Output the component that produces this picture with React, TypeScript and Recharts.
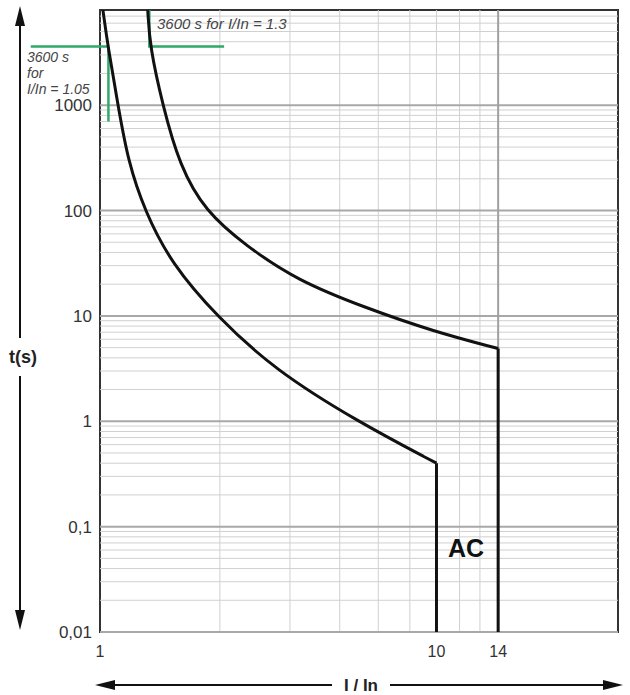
import {
  ComposedChart,
  Line,
  XAxis,
  YAxis,
  ReferenceLine,
  ReferenceArea,
} from "recharts";

// tripping curve, I/In on a log grid, t in seconds
const lowerCurve = [
  { x: 1.017, t: 8000 },
  { x: 1.047, t: 3600 },
  { x: 1.11, t: 1000 },
  { x: 1.175, t: 297 },
  { x: 1.296, t: 98 },
  { x: 1.514, t: 31 },
  { x: 1.97, t: 9.8 },
  { x: 2.74, t: 3.1 },
  { x: 4.42, t: 1 },
  { x: 7, t: 0.4 },
];

const upperCurve = [
  { x: 1.318, t: 8000 },
  { x: 1.334, t: 3600 },
  { x: 1.437, t: 1000 },
  { x: 1.585, t: 265 },
  { x: 1.84, t: 98 },
  { x: 2.32, t: 46.6 },
  { x: 3.12, t: 21.8 },
  { x: 4.65, t: 11.9 },
  { x: 6.9, t: 7.1 },
  { x: 10, t: 4.9 },
];

const tMin = 0.01;
const tMax = 8000;

const lowerDrop = [lowerCurve[lowerCurve.length - 1], { x: 7, t: tMin }];
const upperDrop = [upperCurve[upperCurve.length - 1], { x: 10, t: tMin }];

// green 3600 s markers
const mark105 = [
  { x: 1.05, t: 3600 },
  { x: 1.05, t: 700 },
];
const mark13 = [
  { x: 1.33, t: tMax },
  { x: 1.33, t: 3600 },
  { x: 2.05, t: 3600 },
];

const xTicks = [1, 7, 10];
const xTickLabels = ["1", "10", "14"];
const yTicks = [0.01, 0.1, 1, 10, 100, 1000];
const yTickLabels = ["0,01", "0,1", "1", "10", "100", "1000"];

const xMinor = [2, 3, 4, 5, 6, 7, 8, 9];
const yMinor: number[] = [];
yTicks.forEach((d) => {
  for (let k = 2; k <= 9; k++) {
    const v = +(k * d).toPrecision(3);
    if (v < tMax) yMinor.push(v);
  }
});

const FONT = "'Liberation Sans', Arial, sans-serif";
const GREEN = "#2fa86a";

function Overlay() {
  return (
    <svg
      width={630}
      height={695}
      style={{ position: "absolute", left: 0, top: 0, pointerEvents: "none" }}
      fontFamily={FONT}
    >
      {/* t(s) arrow */}
      <line x1={20} y1={24} x2={20} y2={338} stroke="#111" strokeWidth={2} />
      <line x1={20} y1={376} x2={20} y2={612} stroke="#111" strokeWidth={2} />
      <polygon points="20,6 15,26 25,26" fill="#111" />
      <polygon points="20,630 15,610 25,610" fill="#111" />
      <text x={23} y={363} textAnchor="middle" fontSize={18} fontWeight="bold" fill="#222">
        t(s)
      </text>
      {/* I / In arrow */}
      <line x1={112} y1={685} x2={332} y2={685} stroke="#111" strokeWidth={2} />
      <line x1={390} y1={685} x2={606} y2={685} stroke="#111" strokeWidth={2} />
      <polygon points="95,685 115,680 115,690" fill="#111" />
      <polygon points="623,685 603,680 603,690" fill="#111" />
      <text x={361} y={691} textAnchor="middle" fontSize={17} fontWeight="bold" fill="#222">
        I / In
      </text>
      {/* annotations */}
      <g fontStyle="italic" fill="#444">
        <text x={157} y={29} fontSize={15}>3600 s for I/In = 1.3</text>
        <text x={27} y={62} fontSize={14}>3600 s</text>
        <text x={27} y={78} fontSize={14}>for</text>
        <text x={27} y={94} fontSize={14}>I/In = 1.05</text>
      </g>
      <text x={466} y={557} textAnchor="middle" fontSize={25} fontWeight="bold" fill="#111">
        AC
      </text>
    </svg>
  );
}

export default function App() {
  return (
    <div style={{ position: "absolute", left: 0, top: 0, width: 630, height: 695, background: "#fff" }}>
      <ComposedChart
        width={630}
        height={695}
        margin={{ top: 10, right: 12, left: 0, bottom: 0 }}
      >
        <XAxis
          type="number"
          dataKey="x"
          scale="log"
          domain={[1, 20]}
          ticks={xTicks}
          tickFormatter={(v) => xTickLabels[xTicks.indexOf(v)]}
          axisLine={false}
          tickLine={false}
          tickMargin={8}
          height={63}
          tick={{ fill: "#333", fontSize: 16, fontFamily: FONT }}
          allowDataOverflow
        />
        <YAxis
          type="number"
          dataKey="t"
          scale="log"
          domain={[tMin, tMax]}
          ticks={yTicks}
          tickFormatter={(v) => yTickLabels[yTicks.indexOf(v)]}
          axisLine={false}
          tickLine={false}
          tickSize={0}
          tickMargin={8}
          width={100}
          tick={{ fill: "#333", fontSize: 17, fontFamily: FONT }}
          allowDataOverflow
        />
        {yMinor.map((v) => (
          <ReferenceLine key={"ym" + v} y={v} stroke="#d0d0d0" strokeWidth={1} />
        ))}
        {xMinor.map((v) => (
          <ReferenceLine key={"xm" + v} x={v} stroke="#d0d0d0" strokeWidth={1} />
        ))}
        {yTicks.map((v) => (
          <ReferenceLine key={"yM" + v} y={v} stroke="#a8a8a8" strokeWidth={2} />
        ))}
        <ReferenceLine x={10} stroke="#a0a0a0" strokeWidth={2} />
        <ReferenceArea
          x1={1}
          x2={20}
          y1={tMin}
          y2={tMax}
          fill="none"
          stroke="#333"
          strokeWidth={2}
        />
        <ReferenceLine
          segment={[
            { x: 0.67, y: 3600 },
            { x: 1.05, y: 3600 },
          ]}
          ifOverflow="visible"
          stroke={GREEN}
          strokeWidth={2.5}
        />
        <Line data={mark105} dataKey="t" type="linear" stroke={GREEN} strokeWidth={2.5} dot={false} isAnimationActive={false} />
        <Line data={mark13} dataKey="t" type="linear" stroke={GREEN} strokeWidth={2.5} dot={false} isAnimationActive={false} />
        <Line data={lowerCurve} dataKey="t" type="basis" stroke="#111" strokeWidth={3} dot={false} isAnimationActive={false} />
        <Line data={lowerDrop} dataKey="t" type="linear" stroke="#111" strokeWidth={3} dot={false} isAnimationActive={false} />
        <Line data={upperCurve} dataKey="t" type="basis" stroke="#111" strokeWidth={3} dot={false} isAnimationActive={false} />
        <Line data={upperDrop} dataKey="t" type="linear" stroke="#111" strokeWidth={3} dot={false} isAnimationActive={false} />
      </ComposedChart>
      <Overlay />
    </div>
  );
}
